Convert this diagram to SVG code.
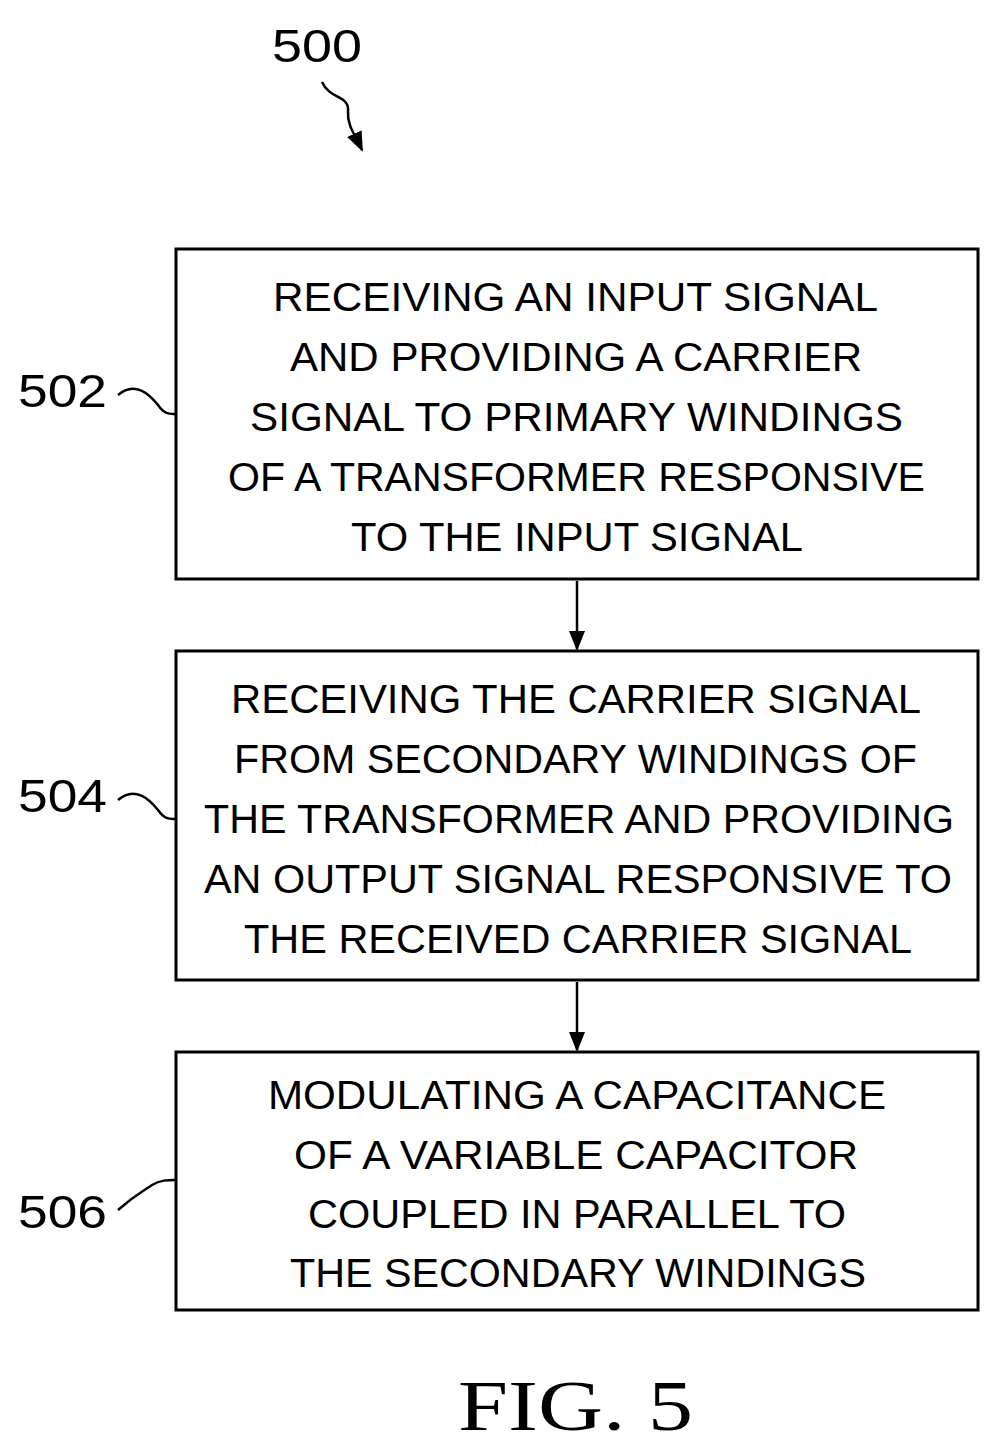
<svg xmlns="http://www.w3.org/2000/svg" width="1002" height="1452" viewBox="0 0 1002 1452">
<style>
.b{fill:#fff;stroke:#000;stroke-width:3}
.t{font-family:"Liberation Sans",Arial,sans-serif;font-size:40px;fill:#000}
.l{font-family:"Liberation Sans",Arial,sans-serif;font-size:46px;fill:#000}
.c{fill:none;stroke:#000;stroke-width:2.5}
</style>
<defs>
<marker id="a2" markerWidth="20" markerHeight="20" refX="18" refY="10" orient="auto" markerUnits="userSpaceOnUse" viewBox="0 0 20 20"><path d="M0,2L20,10L0,18z"/></marker></defs>
<text class="l" x="272" y="62" textLength="90" lengthAdjust="spacingAndGlyphs">500</text>
<g id="connectors">
<path class="c" d="M322,82 C330,100 350,95 348,112 C347,125 355,135 362,150" marker-end="url(#a2)"/>
<path class="c" d="M118,395 C135,380 150,395 158,405 C165,415 170,414 175,414"/>
<path class="c" d="M118,800 C135,785 150,800 158,810 C165,820 170,819 175,819"/>
<path class="c" d="M118,1210 C135,1195 145,1190 152,1185 C160,1180 168,1180 175,1180"/>
<line class="c" x1="577" y1="581" x2="577" y2="649" marker-end="url(#a2)"/>
<line class="c" x1="577" y1="982" x2="577" y2="1050" marker-end="url(#a2)"/>
</g>
<g id="n502">
<rect class="b" x="176" y="249" width="802" height="330"/>
<text class="t" x="273" y="311" textLength="605" lengthAdjust="spacingAndGlyphs">RECEIVING AN INPUT SIGNAL</text>
<text class="t" x="290" y="371" textLength="572" lengthAdjust="spacingAndGlyphs">AND PROVIDING A CARRIER</text>
<text class="t" x="250" y="431" textLength="653" lengthAdjust="spacingAndGlyphs">SIGNAL TO PRIMARY WINDINGS</text>
<text class="t" x="228" y="491" textLength="697" lengthAdjust="spacingAndGlyphs">OF A TRANSFORMER RESPONSIVE</text>
<text class="t" x="351" y="551" textLength="452" lengthAdjust="spacingAndGlyphs">TO THE INPUT SIGNAL</text>
<text class="l" x="18" y="407" textLength="89" lengthAdjust="spacingAndGlyphs">502</text>
</g>
<g id="n504">
<rect class="b" x="176" y="651" width="802" height="329"/>
<text class="t" x="231" y="713" textLength="690" lengthAdjust="spacingAndGlyphs">RECEIVING THE CARRIER SIGNAL</text>
<text class="t" x="234" y="773" textLength="683" lengthAdjust="spacingAndGlyphs">FROM SECONDARY WINDINGS OF</text>
<text class="t" x="204" y="833" textLength="750" lengthAdjust="spacingAndGlyphs">THE TRANSFORMER AND PROVIDING</text>
<text class="t" x="204" y="893" textLength="748" lengthAdjust="spacingAndGlyphs">AN OUTPUT SIGNAL RESPONSIVE TO</text>
<text class="t" x="244" y="953" textLength="668" lengthAdjust="spacingAndGlyphs">THE RECEIVED CARRIER SIGNAL</text>
<text class="l" x="18" y="812" textLength="89" lengthAdjust="spacingAndGlyphs">504</text>
</g>
<g id="n506">
<rect class="b" x="176" y="1052" width="802" height="258"/>
<text class="t" x="268" y="1109" textLength="618" lengthAdjust="spacingAndGlyphs">MODULATING A CAPACITANCE</text>
<text class="t" x="294" y="1169" textLength="564" lengthAdjust="spacingAndGlyphs">OF A VARIABLE CAPACITOR</text>
<text class="t" x="308" y="1228" textLength="538" lengthAdjust="spacingAndGlyphs">COUPLED IN PARALLEL TO</text>
<text class="t" x="290" y="1287" textLength="576" lengthAdjust="spacingAndGlyphs">THE SECONDARY WINDINGS</text>
<text class="l" x="18" y="1228" textLength="89" lengthAdjust="spacingAndGlyphs">506</text>
</g>
<text x="458" y="1430" font-family="Liberation Serif,serif" font-size="72" textLength="235" lengthAdjust="spacingAndGlyphs">FIG. 5</text>
</svg>
